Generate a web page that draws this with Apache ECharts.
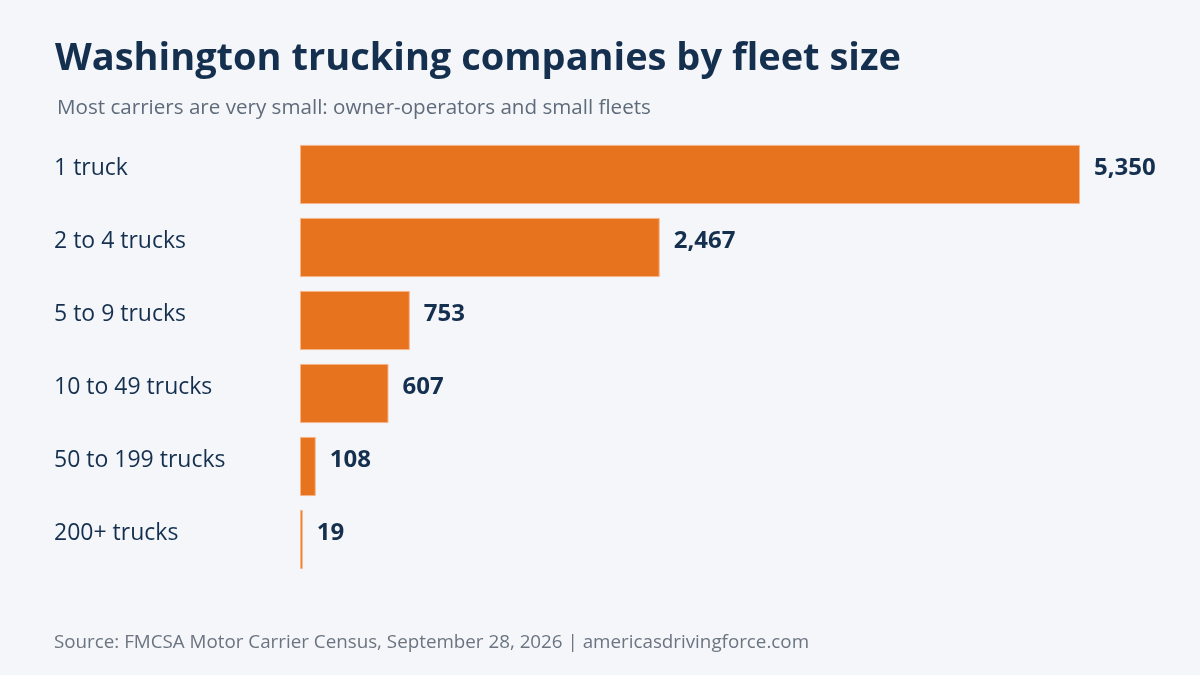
<!DOCTYPE html>
<html>
<head>
<meta charset="utf-8">
<script src="https://cdn.jsdelivr.net/npm/echarts@6/dist/echarts.min.js"></script>
<style>
  html, body { margin: 0; padding: 0; background: #f4f6fa; }
  #chart { width: 1200px; height: 675px; }
</style>
</head>
<body>
<div id="chart"></div>
<script>
// fleet size buckets, top to bottom
var categories = ['1 truck', '2 to 4 trucks', '5 to 9 trucks', '10 to 49 trucks', '50 to 199 trucks', '200+ trucks'];
var companies = [5350, 2467, 753, 607, 108, 19];

var FONT = '"Open Sans", "Noto Sans", sans-serif';

var chart = echarts.init(document.getElementById('chart'));

var option = {
    backgroundColor: '#f4f6fa',
    animation: false,
    title: [
        {
            text: 'Washington trucking companies by fleet size',
            left: 50,
            top: 35,
            textStyle: { fontFamily: FONT, fontSize: 38, fontWeight: 'bold', color: '#15304f' }
        },
        {
            text: 'Most carriers are very small: owner-operators and small fleets',
            left: 52,
            top: 93,
            textStyle: { fontFamily: FONT, fontSize: 20.6, fontWeight: 'normal', color: '#5f6b7a' }
        },
        {
            text: 'Source: FMCSA Motor Carrier Census, September 28, 2026 | americasdrivingforce.com',
            left: 49,
            top: 628,
            textStyle: { fontFamily: FONT, fontSize: 18.8, fontWeight: 'normal', color: '#6b7480' }
        }
    ],
    grid: { left: 300, right: 120, top: 138, height: 438 },
    xAxis: {
        type: 'value',
        min: 0,
        max: 5350,
        show: false
    },
    yAxis: {
        type: 'category',
        data: categories,
        inverse: true,
        axisLine: { show: false },
        axisTick: { show: false },
        splitLine: { show: false },
        axisLabel: {
            align: 'left',
            verticalAlign: 'bottom',
            lineHeight: 12,
            margin: 246,
            fontFamily: FONT,
            fontSize: 23,
            color: '#15304f'
        }
    },
    series: [{
        type: 'bar',
        data: companies,
        barCategoryGap: '19%',
        itemStyle: { color: '#e8731e', borderColor: '#f7b58a', borderWidth: 1 },
        label: {
            show: true,
            position: 'right',
            distance: 14,
            offset: [0, -6],
            fontFamily: FONT,
            fontSize: 24,
            fontWeight: 'bold',
            color: '#15304f',
            formatter: function (p) {
                return p.value.toLocaleString('en-US');
            }
        }
    }]
};

chart.setOption(option);
</script>
</body>
</html>
